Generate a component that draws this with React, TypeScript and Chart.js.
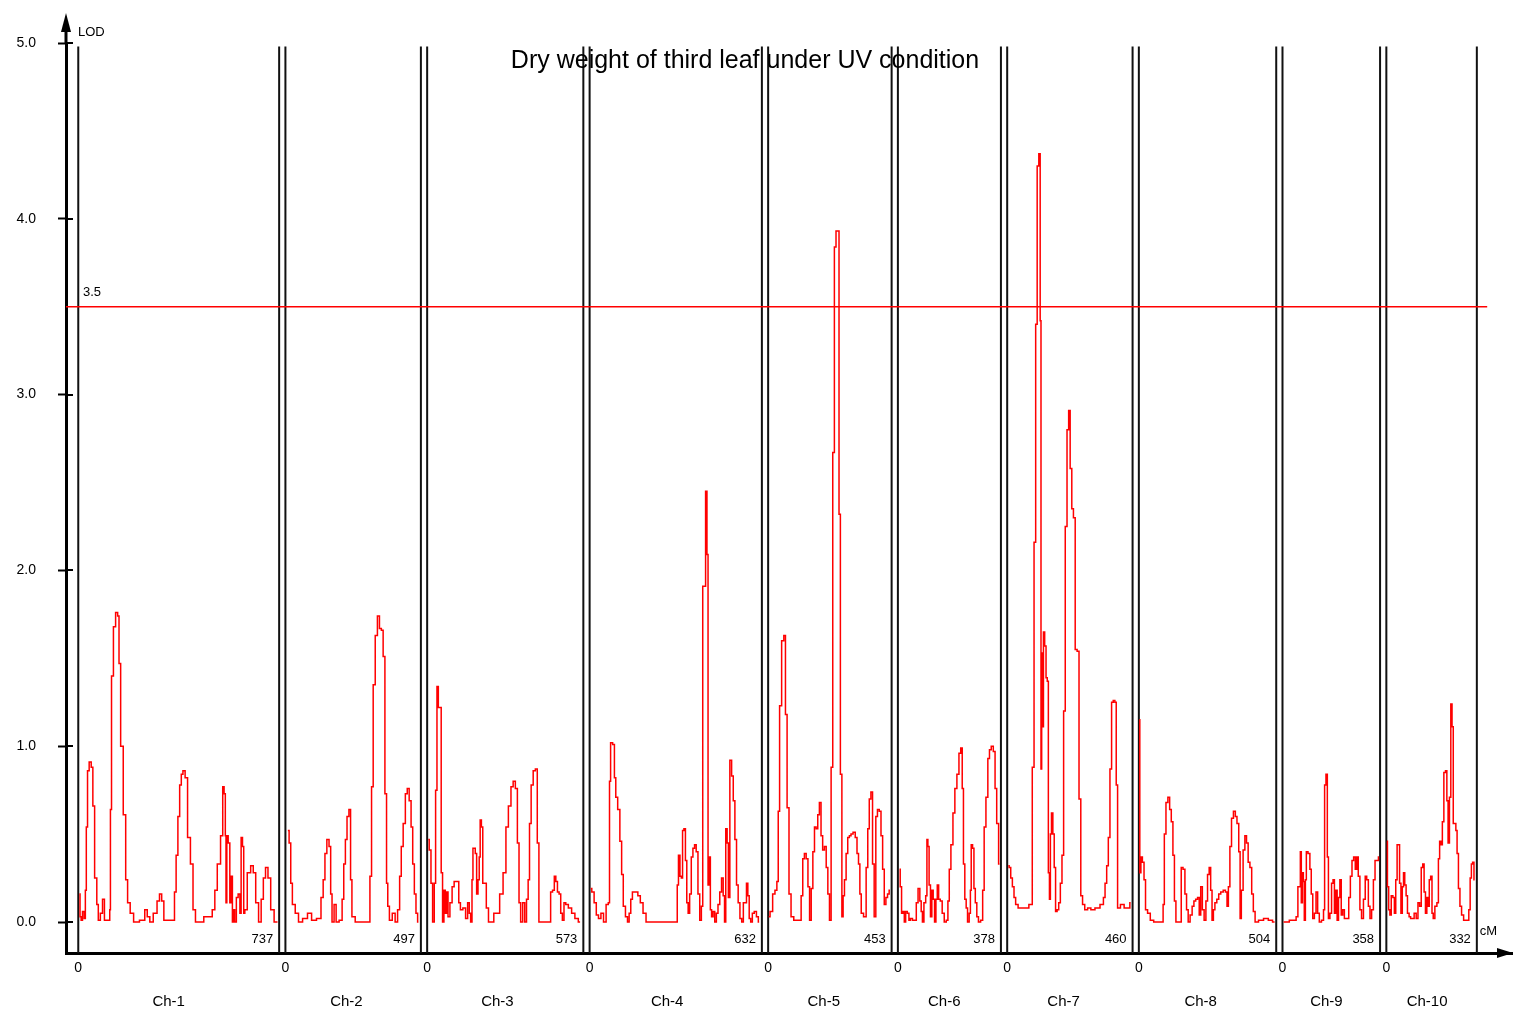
import React, { useEffect, useRef } from "react";
import { Chart, registerables } from "chart.js";

Chart.register(...registerables);

// ---------------- data ----------------
const TITLE = "Dry weight of third leaf under UV condition";
const Y_LABEL = "LOD";
const X_UNIT = "cM";
const CHROM_NAMES = ["Ch-1", "Ch-2", "Ch-3", "Ch-4", "Ch-5", "Ch-6", "Ch-7", "Ch-8", "Ch-9", "Ch-10"];
const CHROM_LENGTHS = [737, 497, 573, 632, 453, 378, 460, 504, 358, 332];
const Y_TICKS = [0, 1, 2, 3, 4, 5];
const THRESHOLD = 3.5;
const GAP_CM = 23;

const CH1_POS = [4, 9, 12, 19, 24, 28, 31, 37, 43, 52, 55, 65, 71, 76, 86, 92, 100, 114, 117, 119, 125, 133, 141, 148, 151, 160, 170, 178, 184, 197, 209, 240, 248, 258, 267, 283, 295, 301, 311, 317, 350, 356, 362, 369, 375, 381, 387, 397, 405, 418, 424, 436, 485, 498, 504, 516, 528, 532, 538, 541, 543, 547, 553, 559, 563, 568, 571, 577, 583, 590, 596, 599, 606, 608, 614, 626, 639, 645, 657, 666, 676, 682, 692, 700, 712, 725, 731];
const CH1_LOD = [0.16, 0.03, 0.01, 0.06, 0.02, 0.18, 0.54, 0.86, 0.91, 0.88, 0.66, 0.25, 0.10, 0.01, 0.05, 0.13, 0.01, 0.01, 0.07, 0.64, 1.40, 1.68, 1.76, 1.74, 1.47, 1.00, 0.61, 0.24, 0.11, 0.05, 0, 0.01, 0.07, 0.03, 0, 0.05, 0.12, 0.16, 0.12, 0.01, 0.01, 0.17, 0.38, 0.60, 0.78, 0.84, 0.86, 0.82, 0.48, 0.33, 0.07, 0, 0.03, 0.07, 0.18, 0.33, 0.49, 0.77, 0.73, 0.49, 0.11, 0.49, 0.45, 0.11, 0.26, 0, 0.07, 0, 0.14, 0.16, 0.05, 0.48, 0.43, 0.05, 0.07, 0.28, 0.32, 0.28, 0.11, 0, 0.13, 0.25, 0.31, 0.25, 0.07, 0, 0];

const CH2_POS = [9, 18, 21, 30, 42, 54, 72, 90, 102, 126, 135, 142, 148, 156, 164, 168, 174, 183, 189, 205, 211, 217, 223, 229, 237, 241, 247, 265, 307, 313, 319, 325, 334, 341, 349, 355, 362, 368, 374, 377, 386, 398, 407, 416, 422, 428, 436, 444, 450, 458, 464, 470, 476, 482, 488];
const CH2_LOD = [0.52, 0.45, 0.22, 0.10, 0.05, 0, 0.02, 0.05, 0.01, 0.02, 0.14, 0.24, 0.39, 0.47, 0.43, 0.16, 0, 0.10, 0, 0.01, 0.13, 0.33, 0.47, 0.60, 0.64, 0.24, 0.03, 0, 0, 0.26, 0.77, 1.35, 1.63, 1.74, 1.67, 1.66, 1.51, 0.73, 0.22, 0.09, 0.01, 0.05, 0, 0.07, 0.26, 0.43, 0.56, 0.73, 0.76, 0.69, 0.54, 0.33, 0.16, 0.05, 0];

const CH3_POS = [4, 11, 17, 23, 29, 33, 39, 43, 49, 54, 59, 64, 69, 74, 79, 88, 95, 103, 113, 119, 125, 137, 145, 152, 157, 162, 167, 169, 174, 179, 184, 189, 193, 196, 202, 206, 213, 221, 229, 260, 272, 285, 293, 303, 312, 319, 328, 334, 340, 346, 355, 361, 368, 373, 378, 385, 393, 401, 407, 413, 450, 456, 464, 469, 475, 481, 487, 493, 499, 505, 512, 524, 536, 548, 561];
const CH3_LOD = [0.47, 0.41, 0.22, 0, 0.22, 0.75, 1.34, 1.22, 1.22, 0.28, 0, 0.18, 0.05, 0.17, 0.03, 0.11, 0.20, 0.23, 0.23, 0.11, 0.07, 0.08, 0.02, 0.11, 0.05, 0, 0.24, 0.42, 0.42, 0.39, 0.16, 0.24, 0.37, 0.58, 0.54, 0.22, 0.22, 0.08, 0, 0.05, 0.16, 0.28, 0.54, 0.66, 0.77, 0.80, 0.76, 0.45, 0.11, 0, 0.11, 0, 0.13, 0.24, 0.56, 0.78, 0.86, 0.87, 0.45, 0, 0, 0.17, 0.18, 0.26, 0.23, 0.17, 0.16, 0.05, 0.01, 0.11, 0.10, 0.08, 0.05, 0.02, 0];

const CH4_POS = [4, 12, 21, 28, 37, 46, 56, 65, 72, 74, 80, 89, 93, 99, 107, 115, 120, 127, 136, 142, 148, 154, 160, 173, 181, 191, 201, 213, 320, 323, 329, 334, 339, 343, 349, 354, 359, 364, 370, 376, 382, 388, 394, 401, 407, 413, 417, 423, 428, 433, 436, 441, 445, 450, 456, 462, 468, 474, 481, 487, 493, 497, 502, 507, 511, 518, 524, 530, 536, 542, 548, 555, 561, 567, 573, 578, 583, 588, 594, 600, 608, 616, 622];
const CH4_LOD = [0.19, 0.17, 0.11, 0.04, 0.02, 0.05, 0, 0.10, 0.11, 0.80, 1.02, 1.01, 0.82, 0.71, 0.64, 0.46, 0.27, 0.09, 0.03, 0, 0.05, 0.13, 0.17, 0.17, 0.15, 0.11, 0.05, 0, 0, 0.21, 0.38, 0.26, 0.25, 0.52, 0.53, 0.35, 0.11, 0.05, 0.16, 0.37, 0.42, 0.44, 0.40, 0.16, 0.01, 0.09, 1.91, 1.91, 2.45, 2.09, 0.21, 0.37, 0.07, 0.03, 0.06, 0, 0.05, 0.10, 0.17, 0.25, 0.15, 0, 0.53, 0.45, 0.14, 0.92, 0.83, 0.69, 0.47, 0.21, 0.11, 0.02, 0, 0.11, 0.11, 0.22, 0.15, 0.02, 0, 0.05, 0.06, 0.03, 0];

const CH5_POS = [2, 12, 21, 29, 35, 39, 45, 54, 61, 66, 73, 80, 88, 100, 118, 124, 130, 136, 143, 149, 155, 161, 167, 173, 179, 185, 191, 197, 203, 210, 216, 222, 228, 234, 240, 246, 252, 258, 262, 268, 273, 277, 283, 289, 295, 301, 307, 316, 323, 329, 334, 339, 344, 356, 363, 368, 374, 380, 386, 392, 398, 404, 411, 417, 423, 429, 435, 441, 447];
const CH5_LOD = [0.03, 0.06, 0.16, 0.18, 0.23, 0.63, 1.23, 1.60, 1.63, 1.18, 0.65, 0.16, 0.03, 0.01, 0.01, 0.15, 0.36, 0.39, 0.36, 0.20, 0.01, 0.19, 0.40, 0.54, 0.53, 0.61, 0.68, 0.49, 0.41, 0.43, 0.31, 0.16, 0.01, 0.88, 2.67, 3.84, 3.93, 3.93, 2.32, 0.84, 0.03, 0.15, 0.24, 0.39, 0.48, 0.49, 0.50, 0.51, 0.48, 0.39, 0.33, 0.16, 0.05, 0.03, 0.31, 0.53, 0.70, 0.74, 0.33, 0.03, 0.60, 0.64, 0.63, 0.49, 0.30, 0.10, 0.14, 0.16, 0.18];

const CH6_POS = [6, 11, 16, 21, 26, 31, 38, 43, 49, 58, 65, 70, 78, 83, 88, 92, 99, 105, 108, 112, 117, 122, 127, 132, 137, 142, 147, 152, 159, 166, 174, 181, 186, 191, 198, 206, 212, 221, 227, 234, 238, 243, 248, 253, 258, 265, 267, 271, 277, 281, 287, 292, 299, 308, 314, 319, 327, 333, 339, 346, 354, 359, 366, 373];
const CH6_LOD = [0.30, 0.20, 0.05, 0.06, 0, 0.06, 0.05, 0.01, 0.02, 0.01, 0.01, 0.11, 0.19, 0.12, 0.06, 0, 0.11, 0.15, 0.47, 0.43, 0.21, 0.03, 0.18, 0.13, 0, 0.13, 0.21, 0.13, 0.12, 0.05, 0, 0.01, 0.12, 0.30, 0.44, 0.62, 0.76, 0.84, 0.96, 0.99, 0.76, 0.33, 0.13, 0.08, 0, 0.05, 0.18, 0.44, 0.42, 0.19, 0.11, 0.03, 0, 0.01, 0.18, 0.54, 0.71, 0.93, 0.98, 1.00, 0.97, 0.76, 0.56, 0.33];

const CH7_POS = [4, 10, 16, 22, 28, 34, 46, 70, 89, 95, 102, 107, 113, 119, 123, 125, 128, 131, 135, 140, 145, 149, 153, 157, 160, 165, 170, 175, 180, 186, 192, 198, 204, 210, 216, 223, 228, 234, 240, 246, 253, 260, 267, 273, 280, 289, 301, 313, 331, 350, 356, 362, 368, 374, 380, 386, 392, 398, 402, 408, 423, 435, 447, 453];
const CH7_LOD = [0.32, 0.31, 0.25, 0.20, 0.14, 0.10, 0.08, 0.08, 0.10, 0.88, 2.16, 3.40, 4.30, 4.37, 3.42, 0.87, 1.53, 1.11, 1.65, 1.57, 1.39, 1.37, 0.28, 0.13, 0.50, 0.62, 0.50, 0.31, 0.06, 0.07, 0.11, 0.22, 0.38, 1.20, 2.25, 2.80, 2.91, 2.58, 2.35, 2.30, 1.55, 1.54, 0.70, 0.15, 0.10, 0.07, 0.08, 0.07, 0.08, 0.10, 0.14, 0.22, 0.32, 0.48, 0.87, 1.25, 1.26, 1.25, 0.78, 0.08, 0.10, 0.08, 0.08, 0.11];

const CH8_POS = [2, 5, 10, 16, 22, 27, 37, 47, 62, 87, 91, 96, 103, 110, 116, 122, 128, 133, 139, 153, 158, 166, 172, 178, 184, 192, 199, 205, 212, 219, 224, 230, 236, 243, 249, 255, 261, 266, 271, 276, 282, 290, 296, 305, 314, 321, 326, 331, 337, 343, 351, 357, 363, 370, 373, 379, 386, 392, 398, 404, 411, 417, 423, 430, 448, 467, 483, 498];
const CH8_LOD = [1.15, 0.28, 0.37, 0.34, 0.24, 0.07, 0.05, 0.01, 0, 0, 0.10, 0.50, 0.68, 0.71, 0.64, 0.57, 0.38, 0.12, 0, 0, 0.31, 0.30, 0.16, 0.07, 0, 0.04, 0.09, 0.12, 0.13, 0.14, 0.04, 0.20, 0.07, 0.01, 0.12, 0.27, 0.31, 0.18, 0.01, 0.07, 0.11, 0.13, 0.16, 0.17, 0.18, 0.17, 0.09, 0.20, 0.43, 0.59, 0.63, 0.60, 0.56, 0.40, 0.02, 0.18, 0.41, 0.49, 0.45, 0.34, 0.31, 0.16, 0.06, 0, 0.01, 0.02, 0.01, 0];

const CH9_POS = [4, 46, 54, 59, 64, 67, 71, 75, 78, 82, 86, 89, 98, 103, 108, 114, 120, 126, 132, 138, 148, 153, 156, 163, 166, 171, 177, 183, 188, 193, 198, 203, 208, 213, 218, 224, 230, 240, 246, 252, 258, 264, 270, 275, 281, 287, 293, 301, 306, 312, 318, 324, 330, 337, 342, 350, 354];
const CH9_LOD = [0, 0.01, 0.03, 0.20, 0.20, 0.40, 0.11, 0.28, 0.23, 0.01, 0.24, 0.40, 0.39, 0.30, 0.16, 0.02, 0.05, 0.17, 0.05, 0, 0.01, 0.07, 0.78, 0.84, 0.37, 0.02, 0.05, 0.22, 0.24, 0.05, 0.18, 0.01, 0.14, 0.24, 0.04, 0.07, 0.02, 0.02, 0.14, 0.26, 0.35, 0.37, 0.30, 0.37, 0.26, 0.07, 0.02, 0.13, 0.26, 0.24, 0.09, 0.02, 0.07, 0.24, 0.35, 0.35, 0.37];

const CH10_POS = [2, 6, 11, 15, 21, 27, 32, 37, 42, 46, 51, 56, 61, 65, 70, 75, 80, 87, 91, 98, 106, 113, 119, 125, 131, 136, 141, 146, 151, 155, 160, 165, 170, 174, 182, 189, 193, 198, 203, 208, 214, 220, 224, 229, 234, 239, 243, 248, 253, 257, 262, 267, 273, 279, 288, 300, 305, 310, 314, 319, 324];
const CH10_LOD = [0.46, 0.20, 0.07, 0.04, 0.15, 0.14, 0.05, 0.24, 0.44, 0.44, 0.22, 0.05, 0.20, 0.28, 0.21, 0.15, 0.05, 0.03, 0.02, 0.02, 0.05, 0.02, 0.11, 0.09, 0.31, 0.33, 0.17, 0.05, 0.14, 0.09, 0.24, 0.26, 0.05, 0.02, 0.09, 0.11, 0.36, 0.46, 0.44, 0.57, 0.85, 0.86, 0.69, 0.45, 0.71, 1.24, 1.11, 0.56, 0.56, 0.52, 0.39, 0.19, 0.09, 0.04, 0.01, 0.01, 0.07, 0.25, 0.33, 0.34, 0.24];

const CHROM_POS = [CH1_POS, CH2_POS, CH3_POS, CH4_POS, CH5_POS, CH6_POS, CH7_POS, CH8_POS, CH9_POS, CH10_POS];
const CHROM_LOD = [CH1_LOD, CH2_LOD, CH3_LOD, CH4_LOD, CH5_LOD, CH6_LOD, CH7_LOD, CH8_LOD, CH9_LOD, CH10_LOD];

// ---------------- derived layout ----------------
const OFFSETS = CHROM_LENGTHS.map(
  (_, i) => CHROM_LENGTHS.slice(0, i).reduce((a, b) => a + b, 0) + i * GAP_CM
);
const ENDS = OFFSETS.map((o, i) => o + CHROM_LENGTHS[i]);
const LABEL_POS = OFFSETS.map((o, i) => o + CHROM_LENGTHS[i] * 0.45);
const X_MIN = -45;
const X_MAX = 5260;
const Y_MIN = -0.1763;
const Y_MAX = 5;
const LINE_TOP = 4.98;
const THRESH_END = ENDS[ENDS.length - 1] + 38;
const FONT = "'Liberation Sans', Arial, sans-serif";

const decorPlugin = {
  id: "decor",
  afterDraw(chart: any) {
    const { ctx, chartArea, scales } = chart;
    const xs = scales.x;
    const ys = scales.y;
    const ax = chartArea.left;
    const ay = chartArea.bottom;
    ctx.save();
    ctx.strokeStyle = "#000";
    ctx.fillStyle = "#000";
    // y axis arrow
    ctx.lineWidth = 3;
    ctx.beginPath();
    ctx.moveTo(ax, chartArea.top);
    ctx.lineTo(ax, 26);
    ctx.stroke();
    ctx.beginPath();
    ctx.moveTo(ax, 13);
    ctx.lineTo(ax - 5, 32);
    ctx.lineTo(ax + 5, 32);
    ctx.closePath();
    ctx.fill();
    // inner halves of y ticks
    ctx.lineWidth = 2;
    Y_TICKS.forEach((v) => {
      const py = Math.round(ys.getPixelForValue(v));
      ctx.beginPath();
      ctx.moveTo(ax, py);
      ctx.lineTo(ax + 7, py);
      ctx.stroke();
    });
    // x axis arrow
    ctx.beginPath();
    ctx.moveTo(chartArea.right + 1, ay);
    ctx.lineTo(chartArea.right - 15, ay - 5);
    ctx.lineTo(chartArea.right - 15, ay + 5);
    ctx.closePath();
    ctx.fill();
    // texts
    ctx.textBaseline = "middle";
    ctx.textAlign = "left";
    ctx.font = `13px ${FONT}`;
    ctx.fillText(Y_LABEL, ax + 12, 32);
    ctx.fillText(X_UNIT, xs.getPixelForValue(ENDS[ENDS.length - 1]) + 3, ay - 22);
    ctx.fillText(THRESHOLD.toFixed(1), ax + 17, ys.getPixelForValue(THRESHOLD) - 14);
    ctx.textAlign = "right";
    CHROM_LENGTHS.forEach((len, i) => {
      ctx.fillText(String(len), xs.getPixelForValue(ENDS[i]) - 6, ay - 14);
    });
    ctx.textAlign = "center";
    ctx.font = `25px ${FONT}`;
    ctx.fillText(TITLE, 745, 61);
    ctx.restore();
  },
};

export default function App() {
  const canvasRef = useRef<HTMLCanvasElement | null>(null);

  useEffect(() => {
    if (!canvasRef.current) return;
    const curveSets = CHROM_POS.map((pos, i) => ({
      label: CHROM_NAMES[i],
      data: pos.map((p, j) => ({ x: OFFSETS[i] + p, y: CHROM_LOD[i][j] ?? 0 })),
      borderColor: "#ff0000",
      borderWidth: 1.5,
      pointRadius: 0,
      stepped: "middle",
      fill: false,
    }));
    const boundaryData: any[] = [];
    OFFSETS.forEach((o, i) => {
      [o, ENDS[i]].forEach((x) => {
        boundaryData.push({ x, y: LINE_TOP }, { x, y: Y_MIN }, { x, y: null });
      });
    });
    const chart = new Chart(canvasRef.current, {
      type: "line",
      data: {
        datasets: [
          ...curveSets,
          {
            label: "threshold",
            data: [
              { x: X_MIN, y: THRESHOLD },
              { x: THRESH_END, y: THRESHOLD },
            ],
            borderColor: "#ff0000",
            borderWidth: 1.5,
            pointRadius: 0,
          },
          {
            label: "boundaries",
            data: boundaryData,
            borderColor: "#111111",
            borderWidth: 2,
            pointRadius: 0,
            spanGaps: false,
          },
        ] as any,
      },
      options: {
        animation: false,
        responsive: true,
        maintainAspectRatio: false,
        devicePixelRatio: 1,
        layout: { padding: { left: 0, right: 2, top: 43, bottom: 0 } },
        plugins: { legend: { display: false }, tooltip: { enabled: false }, title: { display: false } },
        scales: {
          x: {
            type: "linear",
            position: "bottom",
            weight: 0,
            min: X_MIN,
            max: X_MAX,
            afterFit: (s: any) => {
              s.height = 30;
            },
            afterBuildTicks: (s: any) => {
              s.ticks = OFFSETS.map((v) => ({ value: v }));
            },
            ticks: {
              autoSkip: false,
              maxRotation: 0,
              color: "#000",
              padding: 7,
              font: { size: 14, family: FONT },
              callback: (v: any, i: number) => String(Number(v) - OFFSETS[i]),
            },
            grid: { display: false, drawTicks: false },
            border: { display: true, color: "#000", width: 3 },
          },
          x2: {
            type: "linear",
            position: "bottom",
            weight: 1,
            min: X_MIN,
            max: X_MAX,
            afterFit: (s: any) => {
              s.height = 31;
            },
            afterBuildTicks: (s: any) => {
              s.ticks = LABEL_POS.map((v) => ({ value: v }));
            },
            ticks: {
              autoSkip: false,
              maxRotation: 0,
              color: "#000",
              padding: 10,
              font: { size: 15, family: FONT },
              callback: (_v: any, i: number) => CHROM_NAMES[i],
            },
            grid: { display: false, drawTicks: false },
            border: { display: false },
          },
          y: {
            type: "linear",
            min: Y_MIN,
            max: Y_MAX,
            afterFit: (s: any) => {
              s.width = 66;
            },
            afterBuildTicks: (s: any) => {
              s.ticks = Y_TICKS.map((v) => ({ value: v }));
            },
            ticks: {
              color: "#000",
              padding: 22,
              font: { size: 14, family: FONT },
              callback: (v: any) => Number(v).toFixed(1),
            },
            grid: {
              display: true,
              drawOnChartArea: false,
              drawTicks: true,
              tickLength: 8,
              tickColor: "#000",
              tickWidth: 2,
            },
            border: { display: true, color: "#000", width: 3 },
          },
        },
      } as any,
      plugins: [decorPlugin],
    });
    return () => chart.destroy();
  }, []);

  return (
    <div style={{ position: "fixed", left: 0, top: 0, width: 1514, height: 1014, background: "#fff" }}>
      <canvas ref={canvasRef} />
    </div>
  );
}
